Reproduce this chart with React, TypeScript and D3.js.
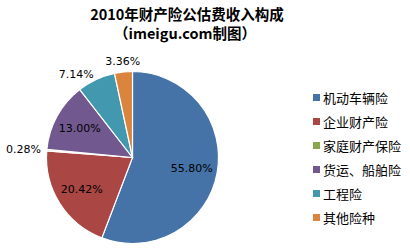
import React from "react";
import * as d3 from "d3";

const categories = ["机动车辆险", "企业财产险", "家庭财产保险", "货运、船舶险", "工程险", "其他险种"];
const values = [55.8, 20.42, 0.28, 13.0, 7.14, 3.36];
const colors = ["#4572A7", "#AA4643", "#89A54E", "#71588F", "#4198AF", "#DB843D"];
const titleLines = ["2010年财产险公估费收入构成", "（imeigu.com制图）"];

const W = 410;
const H = 252;
const cx = 132.5;
const cy = 157.5;
const R = 86;

export default function App() {
  const pie = d3.pie<number>().sort(null).value((d) => d);
  const arcs = pie(values);
  const arcGen = d3.arc<d3.PieArcDatum<number>>().innerRadius(0).outerRadius(R);
  const labelArc = d3.arc<d3.PieArcDatum<number>>().innerRadius(R * 0.7).outerRadius(R * 0.7);
  const total = d3.sum(values);

  return (
    <svg width={W} height={H} style={{ position: "absolute", left: 0, top: 0, background: "#fff" }}
      fontFamily="'Noto Sans CJK SC', 'DejaVu Sans', sans-serif">
      <g fontWeight="bold" fontSize={14.5} textAnchor="middle" fill="#000">
        <text x={187} y={13} dominantBaseline="central">{titleLines[0]}</text>
        <text x={185} y={32} dominantBaseline="central">{titleLines[1]}</text>
      </g>
      <g transform={`translate(${cx},${cy})`}>
        {arcs.map((a, i) => (
          <path key={i} d={arcGen(a) || ""} fill={colors[i]} stroke="#fff" strokeWidth={1.2} />
        ))}
        {arcs.map((a, i) => {
          const label = values[i].toFixed(2) + "%";
          const frac = values[i] / total;
          if (frac > 0.1) {
            const [x, y] = labelArc.centroid(a);
            return (
              <text key={i} x={x} y={y} textAnchor="middle" dominantBaseline="central"
                fontSize={11} fontFamily="'DejaVu Sans', sans-serif" fill="#000">{label}</text>
            );
          }
          const mid = (a.startAngle + a.endAngle) / 2;
          const rr = R + 6;
          const sx = Math.sin(mid);
          const sy = -Math.cos(mid);
          const x = rr * sx;
          const y = rr * sy;
          const anchor = Math.abs(sx) < 0.2 ? "middle" : sx < 0 ? "end" : "start";
          const dy = Math.abs(sx) < 0.2 ? (sy < 0 ? -5 : 5) : 0;
          return (
            <text key={i} x={x} y={y + dy} textAnchor={anchor} dominantBaseline="central"
              fontSize={11} fontFamily="'DejaVu Sans', sans-serif" fill="#000">{label}</text>
          );
        })}
      </g>
      <g>
        {categories.map((c, i) => (
          <g key={i} transform={`translate(313,${97.5 + i * 24})`}>
            <rect x={0} y={-3.5} width={7} height={7} fill={colors[i]} />
            <text x={10} y={0} dominantBaseline="central" fontSize={13} fill="#000">{c}</text>
          </g>
        ))}
      </g>
    </svg>
  );
}
